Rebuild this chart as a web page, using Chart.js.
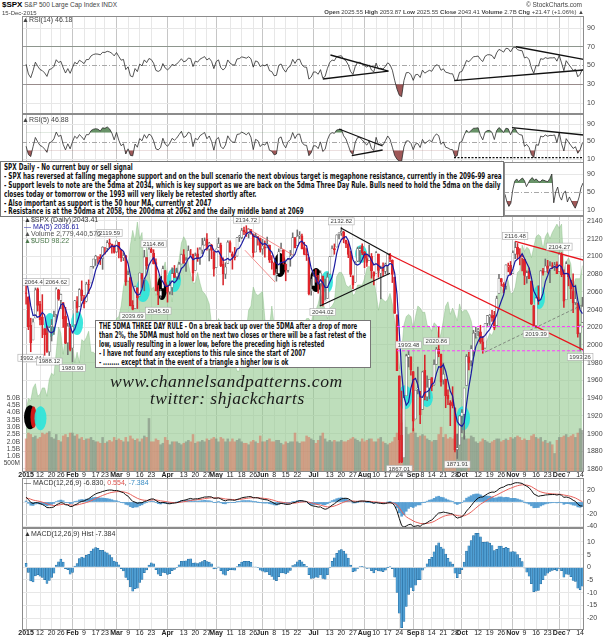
<!DOCTYPE html>
<html>
<head>
<meta charset="utf-8">
<script src="https://cdn.jsdelivr.net/npm/chart.js@4.4.1/dist/chart.umd.min.js"></script>
<style>
  html, body { margin: 0; padding: 0; background: #fff; }
  #page { position: relative; width: 606px; height: 640px; overflow: hidden; font-family: "Liberation Sans", Arial, sans-serif; }
  #page canvas { position: absolute; }
  .t { position: absolute; white-space: nowrap; font-size: 7px; line-height: 8px; color: #444; }
  .box { position: absolute; background: #fff; border: 1px solid #777; box-sizing: border-box; }
  .bl { position: absolute; left: 3px; white-space: nowrap; font: bold 8px/9px "Liberation Sans Narrow", "DejaVu Sans Condensed", "Liberation Sans", sans-serif; color: #111; transform-origin: 0 0; }
  .wm { position: absolute; white-space: nowrap; font: italic 17px/18px "Liberation Serif", "DejaVu Serif", serif; color: #1a1a1a; transform-origin: 0 0; letter-spacing: 0.5px; }
</style>
</head>
<body>
<div id="page">
  <canvas id="cRsi14" width="606" height="98" style="left:0;top:16px"></canvas>
  <canvas id="cRsi5" width="606" height="49" style="left:0;top:114px"></canvas>
  <canvas id="cMini" width="102" height="54" style="left:504px;top:162px"></canvas>
  <canvas id="cMain" width="606" height="266" style="left:0;top:216px"></canvas>
  <canvas id="cMacd" width="606" height="50" style="left:0;top:478px"></canvas>
  <canvas id="cHist" width="606" height="112" style="left:0;top:528px"></canvas>

  <div class="t" style="left:2px;top:1px;font-size:6.5px"><b style="font-size:8px;color:#000">$SPX</b> S&amp;P 500 Large Cap Index INDX</div>
  <div class="t" style="left:2px;top:9px;font-size:6px">15-Dec-2015</div>
  <div class="t" style="right:24px;top:1px;font-size:6.5px">&copy; StockCharts.com</div>
  <div class="t" style="right:22px;top:8px;font-size:6px"><b>Open</b> 2025.55 <b>High</b> 2053.87 <b>Low</b> 2025.55 <b>Close</b> 2043.41 <b>Volume</b> 2.7B <b>Chg</b> +21.47 (+1.06%) &#9650;</div>
  <div class="t" style="left:22px;top:16px">&#9650;RSI(14) 46.18</div>
  <div class="t" style="left:22px;top:116px">&#9650;RSI(5) 46.88</div>

  <div class="t" style="left:24px;top:216px;color:#333">&#9650;$SPX (Daily) 2043.41</div>
  <div class="t" style="left:24px;top:223px;color:#1a1aa0">&mdash; MA(5) 2036.61</div>
  <div class="t" style="left:24px;top:230px;color:#555">&#9650;Volume 2,779,440,576</div>
  <div class="t" style="left:24px;top:237px;color:#4d7a4d">&#9650;$USD 98.22</div>

  <div class="t" style="left:24px;top:479px;color:#333">&mdash; MACD(12,26,9) -6.830, <span style="color:#e0504a">0.554</span>, <span style="color:#3a8cc4">-7.384</span></div>
  <div class="t" style="left:24px;top:530px;color:#333">&#9650;MACD(12,26,9) Hist -7.384</div>

  <div class="box" id="box1" style="left:0;top:161px;width:504px;height:56px">
    <div class="bl b1" style="top:1px">SPX Daily - No current buy or sell signal</div>
    <div class="bl b1" style="top:10px">- SPX has reversed at falling megaphone support and on the bull scenario the next obvious target is megaphone resistance, currently in the 2096-99 area</div>
    <div class="bl b1" style="top:19px">- Support levels to note are the 5dma at 2034, which is key support as we are back on the 5dma Three Day Rule. Bulls need to hold the 5dma on the daily</div>
    <div class="bl b1" style="top:28px">closes today or tomorrow or the 1993 will very likely be retested shortly after.</div>
    <div class="bl b1" style="top:37px">- Also important as support is the 50 hour MA, currently at 2047</div>
    <div class="bl b1" style="top:45px">- Resistance is at the 50dma at 2058, the 200dma at 2062 and the daily middle band at 2069</div>
  </div>

  <div class="box" id="box2" style="left:95px;top:320px;width:276px;height:48px">
    <div class="bl b2" style="top:1px">THE 5DMA THREE DAY RULE - On a break back up over the 5DMA after a drop of more</div>
    <div class="bl b2" style="top:10px">than 2%, the 5DMA must hold on the next two closes or there will be a fast retest of the</div>
    <div class="bl b2" style="top:19px">low, usually resulting in a lower low, before the preceding high is retested</div>
    <div class="bl b2" style="top:28px"> - I have not found any exceptions to this rule since the start of 2007</div>
    <div class="bl b2" style="top:37px"> - ........ except that in the event of a triangle a higher low is ok</div>
  </div>

  <div class="wm" id="wm1" style="left:110px;top:373px">www.channelsandpatterns.com</div>
  <div class="wm" id="wm2" style="left:150px;top:390px">twitter: shjackcharts</div>
  <div class="t" id="err" style="left:200px;top:300px;color:red;font-size:12px"></div>
</div>

<script>
// ---------- data (SPX daily, 2 Jan - 15 Dec 2015) ----------
// closes of Nov/Dec 2014, only used to warm up the indicators
const warmCloses = [2017.8,2012.1,2023.6,2031.2,2031.9,2038.3,2039.7,2038.3,2039.8,2039.8,2041.3,2051.8,2048.7,2052.8,2063.5,2069.4,2067.0,2072.8,2067.6,
  2053.4,2066.6,2074.3,2071.9,2075.4,2060.3,2059.8,2026.1,2035.3,2002.3,1989.6,1972.7,2012.9,2061.2,2070.7,2078.5,2082.2,2081.9,2088.8,2090.6,2080.4,2058.9];

const opens = [
  2058.9,2054.4,2022.2,2005.6,2030.6,2063.5,2046.1,2031.6,2018.4,2013.8,1992.3,2020.8,2020.2,2034.3,2062.0,2050.4,2047.9,2032.3,2002.5,2019.4,
  1996.7,2022.7,2048.9,2043.5,2062.3,2053.5,2049.4,2068.6,2070.0,2088.8,2096.5,2099.2,2099.3,2097.7,2109.8,2109.1,2115.3,2113.9,2110.9,
  2105.2,2115.8,2107.7,2098.5,2100.9,2072.3,2076.1,2044.7,2041.1,2064.6,2055.4,2080.6,2072.8,2098.7,2090.3,2108.0,2103.9,2093.1,2059.9,2055.8,2064.1,2084.1,
  2067.6,2060.0,2064.9,2080.8,2076.9,2081.3,2091.5,2102.0,2092.3,2097.8,2105.0,2102.6,2084.1,2102.8,2098.3,2107.2,2112.8,2119.3,2108.4,2112.5,2105.5,
  2087.4,2110.2,2112.6,2091.3,2080.0,2092.1,2115.6,2102.9,2099.6,2100.4,2122.1,2121.3,2129.5,2127.8,2125.6,2130.4,2125.3,2105.1,2122.3,2120.7,
  2108.6,2110.4,2110.6,2112.4,2095.1,2092.3,2079.1,2081.0,2106.2,2107.4,2091.3,2084.3,2097.4,2101.6,2121.1,2112.5,2123.2,2123.2,2110.0,2102.6,2098.6,2061.2,
  2067.0,2078.0,2073.0,2069.5,2077.7,2049.7,2052.7,2080.0,2099.7,2109.0,2110.6,2124.8,2126.8,2127.6,2118.2,2114.2,2102.2,2078.2,2070.8,2094.7,2106.8,2111.6,
  2104.5,2097.7,2095.3,2100.1,2082.6,2081.0,2102.7,2081.1,2086.2,2083.2,2089.7,2102.0,2095.7,2076.6,2034.1,1965.2,1898.1,1872.8,1942.8,1986.1,1986.7,
  1970.1,1916.5,1950.8,1947.8,1927.3,1971.5,1941.6,1951.5,1963.1,1955.1,1978.0,1995.3,1989.7,1960.8,1961.4,1943.2,1934.8,1935.9,1929.2,1881.9,1887.1,
  1919.7,1921.8,1954.3,1986.6,1982.3,1994.0,2013.7,2015.7,2015.0,2003.7,1996.5,2024.4,2031.7,2033.1,2033.5,2021.9,2058.2,2075.1,2068.8,2066.5,2088.4,2090.0,
  2080.8,2102.6,2110.6,2101.7,2098.6,2096.6,2077.2,2083.4,2072.3,2044.6,2022.1,2053.7,2052.0,2083.7,2082.8,2089.4,2084.4,2089.3,2088.8,2091.0,
  2082.9,2101.7,2080.7,2051.2,2090.4,2073.4,2061.2,2047.9,2047.3,2013.4,2025.55
];
const highs = [
  2072.4,2054.4,2030.3,2029.6,2064.4,2064.4,2049.3,2056.9,2018.4,2021.4,2020.5,2028.9,2038.3,2064.6,2062.9,2057.6,2047.9,2042.5,2024.6,2023.3,
  2021.7,2050.3,2054.7,2063.6,2072.4,2056.2,2070.9,2073.5,2088.5,2097.0,2101.3,2100.2,2102.1,2111.0,2110.1,2117.9,2119.6,2113.9,2112.7,
  2117.5,2115.8,2107.7,2104.3,2100.9,2083.5,2076.1,2050.1,2066.4,2064.6,2081.4,2080.6,2106.9,2098.7,2113.9,2114.9,2107.6,2097.4,2067.1,2062.8,2089.0,2084.1,
  2067.6,2072.2,2087.0,2089.8,2086.7,2093.3,2102.6,2107.7,2098.6,2111.9,2107.9,2102.6,2103.9,2109.6,2110.0,2120.5,2120.9,2125.9,2116.0,2113.7,2105.5,
  2108.4,2120.9,2115.2,2098.4,2092.9,2117.7,2117.7,2105.1,2110.2,2121.5,2123.9,2131.8,2133.0,2134.7,2131.4,2130.4,2125.3,2126.2,2122.3,2120.7,
  2119.2,2117.6,2121.9,2112.9,2101.0,2093.0,2085.6,2108.5,2115.0,2107.4,2091.3,2097.4,2106.8,2126.6,2121.6,2129.9,2128.0,2125.1,2116.0,2108.9,2098.6,2074.3,
  2082.8,2085.1,2078.6,2083.7,2077.7,2074.3,2081.3,2099.9,2112.0,2114.1,2124.4,2126.6,2132.8,2128.5,2118.5,2116.9,2106.0,2078.2,2094.1,2110.6,2110.5,2114.2,
  2105.7,2102.5,2112.7,2103.3,2082.6,2105.4,2102.7,2089.1,2092.9,2092.5,2102.9,2103.5,2096.2,2076.6,2034.1,1965.2,1948.0,1943.1,1989.6,1993.5,1986.7,
  1970.1,1948.9,1975.0,1947.8,1970.4,1988.6,1965.3,1961.1,1963.1,1983.2,1997.3,2020.9,1989.7,1979.6,1961.4,1949.5,1937.2,1952.9,1929.2,1899.5,1920.5,
  1927.2,1951.4,1989.2,1991.6,1999.3,2016.5,2020.1,2018.7,2022.3,2009.6,2024.2,2033.5,2034.5,2039.1,2038.0,2055.2,2079.7,2075.1,2070.4,2090.4,2092.5,2094.3,
  2106.2,2116.5,2114.6,2108.8,2101.9,2096.6,2083.7,2086.9,2072.3,2044.6,2053.2,2066.7,2084.0,2086.7,2097.1,2095.6,2094.1,2093.0,2093.3,2093.8,
  2104.3,2104.3,2085.0,2093.8,2090.4,2073.4,2080.3,2067.7,2047.3,2022.9,2053.87
];
const lows = [
  2046.0,2017.3,1992.4,2005.6,2030.6,2038.3,2022.6,2008.3,1988.4,1991.5,1988.1,2004.5,2012.0,2026.4,2050.5,2041.0,2019.9,2001.5,1989.2,1993.4,
  1980.9,2022.7,2036.7,2043.5,2050.0,2041.9,2048.6,2058.0,2070.0,2086.7,2089.8,2092.2,2090.8,2085.4,2102.5,2105.9,2109.9,2103.8,2103.8,
  2104.5,2098.3,2094.5,2095.2,2067.3,2072.2,2044.2,2039.7,2041.1,2041.2,2055.4,2065.1,2061.2,2085.6,2090.3,2104.4,2091.5,2061.1,2045.5,2053.0,2064.1,2067.0,
  2048.4,2057.3,2056.5,2076.1,2074.1,2074.3,2091.5,2092.3,2083.2,2097.8,2101.4,2072.4,2084.1,2094.4,2091.1,2103.2,2112.8,2107.0,2094.9,2097.4,2077.6,
  2087.4,2110.2,2088.5,2067.9,2075.0,2092.1,2104.6,2085.6,2096.0,2100.4,2116.8,2120.0,2124.5,2122.6,2120.9,2125.1,2099.2,2105.1,2112.8,2104.9,
  2102.5,2099.1,2109.6,2093.2,2085.7,2079.1,2072.1,2081.0,2106.2,2091.3,2072.5,2082.1,2088.9,2101.6,2109.5,2112.5,2119.9,2108.6,2101.8,2095.4,2056.6,2056.3,
  2067.0,2071.0,2058.4,2044.7,2044.0,2049.7,2052.7,2080.0,2099.7,2102.5,2110.6,2119.9,2123.7,2115.4,2110.0,2098.6,2077.1,2063.5,2070.8,2094.1,2094.1,2102.1,
  2087.3,2088.6,2095.3,2075.5,2067.9,2081.0,2076.5,2052.1,2078.3,2080.6,2079.3,2094.1,2070.5,2035.7,1970.9,1867.0,1867.1,1872.8,1942.8,1975.2,1966.0,
  1903.1,1916.5,1944.7,1911.2,1927.3,1937.9,1937.2,1939.2,1948.3,1954.3,1977.9,1986.7,1953.5,1955.8,1929.2,1932.6,1908.9,1929.0,1879.2,1871.9,1887.1,
  1900.7,1893.7,1954.3,1972.0,1976.4,1987.5,2007.6,2010.3,2001.8,1990.7,1996.5,2020.5,2022.3,2026.6,2017.2,2021.9,2058.2,2066.5,2058.8,2063.1,2082.6,2079.3,
  2080.8,2097.5,2097.0,2090.4,2083.7,2068.2,2069.9,2074.9,2045.7,2022.0,2019.4,2045.9,2052.0,2078.8,2082.8,2081.4,2070.3,2086.3,2084.1,2080.4,
  2082.9,2077.1,2042.4,2051.2,2066.8,2052.3,2036.5,2045.7,2008.8,1993.3,2025.55
];
const closes = [
  2058.2,2020.6,2002.6,2025.9,2062.1,2044.8,2028.3,2023.0,2011.3,1992.7,2019.4,2022.6,2032.1,2063.2,2051.8,2057.1,2029.6,2002.2,2021.3,1995.0,
  2020.9,2050.0,2041.5,2062.5,2055.5,2046.7,2068.6,2068.5,2088.5,2097.0,2100.3,2099.7,2097.5,2110.3,2109.7,2115.5,2113.9,2110.7,2104.5,
  2117.4,2107.8,2098.5,2101.0,2071.3,2079.4,2044.2,2040.2,2066.0,2053.4,2081.2,2074.3,2099.5,2089.3,2108.1,2104.4,2091.5,2061.1,2056.2,2061.0,2086.2,2067.9,
  2059.7,2067.0,2080.6,2076.3,2081.9,2091.2,2102.1,2092.4,2095.8,2106.6,2105.0,2081.2,2100.4,2097.3,2108.0,2112.9,2117.7,2108.9,2114.8,2106.9,2085.5,
  2108.3,2114.5,2089.5,2080.2,2088.0,2116.1,2105.3,2099.9,2098.5,2121.1,2122.7,2129.2,2127.8,2125.9,2130.8,2126.1,2104.2,2123.5,2120.8,2107.4,
  2111.7,2109.6,2114.1,2095.8,2092.8,2079.3,2080.2,2105.2,2108.9,2094.1,2084.4,2096.3,2100.4,2121.2,2110.0,2122.9,2124.2,2108.6,2102.3,2101.5,2057.6,2063.1,
  2077.4,2076.8,2068.8,2081.3,2046.7,2051.3,2076.6,2099.6,2109.0,2107.4,2124.3,2126.6,2128.3,2119.2,2114.2,2102.2,2079.7,2067.6,2093.3,2108.6,2108.6,2104.0,
  2098.0,2093.3,2099.8,2083.6,2077.6,2104.2,2084.1,2086.1,2083.4,2091.5,2102.4,2096.9,2079.6,2035.7,1970.9,1893.2,1867.6,1940.5,1987.7,1988.9,1972.2,
  1913.9,1948.9,1951.1,1921.2,1969.4,1942.0,1952.3,1961.1,1953.0,1978.1,1995.3,1990.2,1958.0,1967.0,1942.7,1938.8,1932.2,1931.3,1881.8,1884.1,1920.0,
  1923.8,1951.4,1987.1,1979.9,1995.8,2013.4,2014.9,2017.5,2003.7,1994.2,2023.9,2033.1,2033.7,2030.8,2018.9,2052.5,2075.2,2071.2,2065.9,2090.4,2089.4,2079.4,
  2104.1,2109.8,2102.3,2099.9,2099.2,2078.6,2081.7,2075.0,2046.0,2023.0,2053.2,2050.4,2083.6,2081.2,2089.2,2086.6,2089.1,2088.9,2090.1,2080.4,
  2102.6,2079.5,2049.6,2091.7,2077.1,2063.6,2047.6,2052.2,2012.4,2021.9,2043.41
];
// volume, billions of shares
const volumes = [
  2.2,2.6,2.5,2.3,2.4,2.2,2.3,2.6,2.5,2.6,2.7,2.3,2.2,2.5,2.1,2.0,2.4,2.5,2.3,2.6,
  2.6,2.4,2.5,2.2,2.3,2.1,2.2,2.2,2.3,2.1,2.0,2.0,1.9,2.3,1.9,2.0,2.1,2.0,2.3,
  2.1,2.2,2.1,2.0,2.3,2.0,2.4,2.2,2.1,2.2,2.0,2.2,2.4,2.3,3.6,2.0,2.0,2.2,2.1,1.8,1.9,2.3,
  2.1,1.8,2.0,2.0,2.0,1.9,1.8,1.9,2.0,2.1,2.0,2.5,1.9,2.0,2.0,2.1,2.0,2.2,2.1,2.2,2.3,
  2.2,2.0,2.3,2.2,2.0,2.2,2.0,2.2,2.0,2.1,2.2,2.0,1.9,1.9,1.8,2.0,2.1,2.0,1.9,2.4,
  2.0,2.0,2.1,2.2,2.0,2.0,2.1,2.1,1.9,1.8,2.0,1.9,2.0,2.0,2.6,2.0,1.9,2.0,2.0,2.4,2.3,2.2,
  2.1,1.9,2.1,2.4,2.6,2.2,2.0,2.1,2.0,2.1,2.0,2.0,2.1,2.0,2.0,2.1,2.2,2.3,2.2,2.1,2.0,2.2,
  2.0,2.1,2.2,2.2,2.0,2.0,2.2,2.3,2.0,1.9,1.8,1.9,2.0,2.3,2.6,3.9,3.3,3.5,3.0,2.5,2.6,
  2.9,2.6,2.3,2.4,2.5,2.4,2.2,2.1,2.0,2.1,2.1,2.5,3.0,2.3,2.5,2.2,2.3,2.2,2.4,2.5,2.6,
  2.3,2.4,2.2,2.2,2.4,2.3,2.0,1.9,2.0,2.2,2.1,2.0,1.9,2.0,2.1,2.2,2.2,2.0,2.1,2.2,2.1,2.3,
  2.2,2.3,2.4,2.3,2.1,2.2,2.1,2.1,2.4,2.5,2.3,2.2,2.3,2.0,2.1,1.9,2.0,1.8,1.2,2.1,
  2.3,2.3,2.4,2.5,2.3,2.4,2.5,2.3,2.6,2.9,2.78
];
// $USD overlay (green area)
const usd = [
  91.3,91.9,91.8,92.4,92.6,92.0,92.1,92.4,92.4,92.0,92.8,93.1,93.0,94.1,95.3,95.0,94.0,94.9,95.1,94.8,
  94.5,93.6,94.1,93.6,94.7,94.6,94.8,95.1,94.1,94.1,94.0,94.2,94.6,94.8,94.6,94.3,94.4,95.1,95.3,
  95.7,95.8,96.3,97.2,97.7,98.1,99.2,99.9,99.4,100.3,99.5,99.8,97.5,99.1,98.1,97.1,97.2,96.8,97.8,97.2,98.0,98.4,
  97.5,97.3,96.5,97.6,98.1,98.5,99.3,99.6,99.4,98.3,97.8,97.4,97.4,97.9,97.4,97.0,96.9,96.7,96.4,95.4,94.6,
  95.2,95.7,95.5,94.3,94.8,94.8,95.1,95.0,93.6,93.2,93.2,94.9,95.6,95.1,96.1,96.3,97.2,96.9,96.8,96.9,
  97.0,95.7,95.0,95.3,96.3,95.4,94.9,94.7,95.5,95.2,94.8,95.2,95.0,93.8,94.3,94.9,95.5,95.2,95.5,95.7,95.7,95.5,
  96.0,96.1,96.4,96.9,96.5,96.1,95.7,96.2,96.3,96.5,97.7,97.9,97.9,97.7,97.3,97.2,97.3,96.8,96.9,97.3,97.3,97.3,
  97.6,98.1,98.2,97.9,97.6,96.9,96.1,96.7,96.6,96.5,96.6,96.9,96.4,95.6,94.9,93.3,94.1,95.4,95.8,95.9,95.8,
  95.2,95.8,96.3,96.2,96.0,96.0,95.4,95.3,95.1,95.5,95.4,94.6,95.0,95.6,96.3,96.5,95.9,96.2,95.9,95.6,96.4,
  96.0,96.1,96.1,95.9,95.6,95.0,94.8,94.8,95.2,94.4,94.5,94.7,95.0,94.9,95.2,96.5,97.2,97.2,96.9,97.8,97.5,96.9,
  96.9,97.2,97.9,98.0,99.2,98.9,99.1,99.0,98.6,99.1,99.6,99.7,99.6,99.0,99.6,99.8,99.5,99.8,100.0,100.2,
  100.0,100.2,98.0,98.4,98.6,98.3,97.2,97.6,97.6,97.6,98.22
];
// small hourly RSI(5) pasted to the right of the note box
const miniRsi = [45,28,18,25,55,74,79,73,78,81,75,62,70,78,82,76,79,74,72,77,76,74,73,80,90,26,50,61,40,32,48,52,28,39,30,21,14,25,39,60,70];

// x axis: trading-day index of each date label
const tickIdx = [0,6,11,15, 20,25,30,34, 39,44,49,54, 61,68,73,78, 82,88,93,98, 102,107,112,117, 124,131,136,141,
  146,151,156,161, 167,171,175,180,185, 188,195,200,205, 210,215,220,225, 230,234,239];
const tickText = ['2015','12','20','26','Feb','9','17','23','Mar','9','16','23','Apr','13','20','27','May','11','18','26',
  'Jun','8','15','22','Jul','13','20','27','Aug','10','17','24','Sep','8','14','21','28','Oct','12','19','26',
  'Nov','9','16','23','Dec','7','14'];
const priceTicks = [1860,1870,1880,1890,1900,1910,1920,1930,1940,1950,1960,1970,1980,1990,2000,2010,2020,2030,2040,
  2050,2060,2070,2080,2090,2100,2110,2120,2130,2140];
const rsiTicks = [10,30,50,70,90];
const macdTicks = [-40,-20,0,20];
const histTicks = [-20,-15,-10,-5,0,5,10];
const volTicks = [0.5,1,1.5,2,2.5,3,3.5,4,4.5,5];
const volText = ['500M','1.0B','1.5B','2.0B','2.5B','3.0B','3.5B','4.0B','4.5B','5.0B'];

// hand-drawn notes on the chart (trading-day index, value)
const priceTags = [[4,'2064.43','h'],[13,'2064.62','h'],[2,'1992.44','l'],[10,'1988.12','l'],[20,'1980.90','l'],
  [36,'2119.59','h'],[55,'2114.86','h'],[46,'2039.69','l'],[57,'2045.50','l'],[95,'2134.72','h'],[136,'2132.82','h'],
  [128,'2044.02','l'],[161,'1867.01','l'],[186,'1871.91','l'],[165,'1993.48','h'],[177,'2020.86','h'],
  [211,'2116.48','h'],[230,'2104.27','h'],[220,'2019.39','l'],[239,'1993.26','l']];
const trendLines = [
  [135.8,2132,157,2101.6,'#111',1.2],[126.7,2044,157,2081,'#111',1.2],
  [157,2101.6,250,1982,'#e8141c',1.3],[211,2117,250,2089,'#e8141c',1.3],
  [95.3,2132,115.1,2101.6,'#f06060',0.7],[94.4,2107,107.4,2071,'#f06060',0.7]];
const dashLines = [[198,1992,250,2058,'#666',0.7],[160,2020.86,250,2020.86,'#ff3cff',1],[160,1993.48,250,1993.48,'#ff3cff',1]];
const CY = 'rgba(45,228,218,0.92)';
const rings = [[10.3,2022.5,6,12,CY],[22,2024.7,6,12,CY],[1.7,1918.5,6,12,'#000'],[3.2,1918.5,3,11,'#d01818'],[6.2,1917.4,6,12,CY],
  [50.4,2062,7,12,CY],[58.6,2064.3,5,12,'#000'],[63.8,2073.3,7,12,CY],[109.5,2090.3,6,12,'#000'],[125.1,2073.3,6,12,'#000'],
  [129.8,2071.1,6,11,CY],[144.5,2102.7,6,9,CY],[163.5,1941.1,7,12,CY],[172.9,1941.1,6,10,CY],[188.5,1917.4,7,12,CY],[221.3,2054.1,6,12,CY]];
const rsi14Lines = [[131.3,61.2,156.3,44.1],[128,35.6,156.3,44.1],[211.3,70,240.5,56.6],[184.7,33.8,240.5,45.2]];
const rsi5Lines = [[135,78.6,153.8,39.7],[140.5,17.5,153.8,30.6],[209.6,81.5,240.5,64.9]];
const rsi5Dots = [[184.6,13,240.5,13]];

// ---------- indicators (standard definitions applied to the closes) ----------
const N = closes.length;
const lens = [opens, highs, lows, closes, volumes, usd].map(a => a.length);
if (lens.some(l => l !== N)) document.getElementById('err').textContent = 'len ' + lens.join(',');
const all = warmCloses.concat(closes), W = warmCloses.length;
function sma(a, n) { return a.map((_, i) => i < n - 1 ? null : a.slice(i - n + 1, i + 1).reduce((s, v) => s + v, 0) / n); }
function ema(a, n) { const k = 2 / (n + 1); let p = null; return a.map(v => (p = p === null ? v : v * k + p * (1 - k))); }
function rsi(a, n) {
  const out = [null]; let ag = 0, al = 0;
  for (let i = 1; i < a.length; i++) {
    const d = a[i] - a[i - 1], g = Math.max(d, 0), l = Math.max(-d, 0);
    if (i <= n) { ag += g / n; al += l / n; out.push(i === n ? 100 - 100 / (1 + ag / al) : null); }
    else { ag = (ag * (n - 1) + g) / n; al = (al * (n - 1) + l) / n; out.push(al === 0 ? 100 : 100 - 100 / (1 + ag / al)); }
  }
  return out;
}
const ma5 = sma(all, 5).slice(W);
const rsi14 = rsi(all, 14).slice(W);
const rsi5 = rsi(all, 5).slice(W);
const e12 = ema(all, 12), e26 = ema(all, 26);
const macdAll = e12.map((v, i) => v - e26[i]);
const sigAll = ema(macdAll, 9);
const macd = macdAll.slice(W), signal = sigAll.slice(W);
const hist = macd.map((v, i) => v - signal[i]);

// ---------- layout helpers ----------
const X_MIN = -1.77, X_MAX = 240.68;
function calib(top, h, v1, p1, v2, p2) { const k = (p2 - p1) / (v1 - v2); return { min: v2 - (top + h - p2) / k, max: v1 + (p1 - top) / k }; }
const isMonth = i => !/^\d{1,2}$/.test(tickText[i] || '');

Chart.defaults.font.family = '"Liberation Sans", Arial, sans-serif';
Chart.defaults.font.size = 7;
Chart.defaults.color = '#333';
Chart.defaults.animation = false;
Chart.defaults.plugins.legend.display = false;
Chart.defaults.plugins.tooltip.enabled = false;
Chart.defaults.elements.point.radius = 0;

function xAxis(labels) {
  return {
    type: 'linear', min: X_MIN, max: X_MAX, offset: false,
    afterBuildTicks: s => { s.ticks = tickIdx.map(v => ({ value: v })); },
    afterFit: s => { s.height = labels ? 10 : 0; s.paddingLeft = s.paddingRight = 0; },
    grid: { offset: false, drawTicks: false, color: c => isMonth(c.index) ? '#c6c6c6' : '#e7e7e7' },
    border: { display: false },
    ticks: { display: labels, autoSkip: false, maxRotation: 0, minRotation: 0, padding: -1, color: '#222',
      font: c => ({ size: 7, weight: isMonth(c.index) ? 'bold' : 'normal' }),
      callback: (v, i) => tickText[i] }
  };
}
function yAxis(r, vals, gridColor) {
  return {
    position: 'right', min: r.min, max: r.max,
    afterBuildTicks: s => { s.ticks = vals.map(v => ({ value: v })); },
    afterFit: s => { s.width = 22; s.paddingTop = s.paddingBottom = 0; },
    grid: { drawTicks: false, color: gridColor || '#e7e7e7' },
    border: { display: false },
    ticks: { padding: 3, color: '#444', font: { size: 7 }, callback: v => String(v) }
  };
}
const rsiGrid = c => { const v = c.tick && c.tick.value; return v === 70 || v === 30 ? '#9a9a9a' : v === 50 ? 'rgba(0,0,0,0)' : '#e7e7e7'; };

const frame = { id: 'frame', afterDraw(c) {
  const a = c.chartArea, g = c.ctx; g.save(); g.strokeStyle = '#8c8c8c'; g.lineWidth = 1;
  g.strokeRect(a.left + 0.5, a.top + 0.5, a.right - a.left - 1, a.bottom - a.top - 1); g.restore(); } };

function drawSegs(c, yId, segs, color, width, dash) {
  const X = c.scales.x, Y = c.scales[yId], g = c.ctx, a = c.chartArea;
  g.save(); g.beginPath(); g.rect(a.left, a.top, a.right - a.left, a.bottom - a.top); g.clip();
  segs.forEach(s => {
    g.beginPath(); g.strokeStyle = s[4] || color; g.lineWidth = s[5] || width; g.setLineDash(dash || []);
    g.moveTo(X.getPixelForValue(s[0]), Y.getPixelForValue(s[1]));
    g.lineTo(X.getPixelForValue(s[2]), Y.getPixelForValue(s[3])); g.stroke();
  });
  g.restore();
}
function midDash(c) {
  const Y = c.scales.y, a = c.chartArea, g = c.ctx, y = Math.round(Y.getPixelForValue(50)) + 0.5;
  g.save(); g.strokeStyle = '#a8a8a8'; g.lineWidth = 1; g.setLineDash([5, 2, 1, 2]);
  g.beginPath(); g.moveTo(a.left, y); g.lineTo(a.right, y); g.stroke(); g.restore();
}

function rsiConfig(vals, r, xs, xScale, pad, notes) {
  const pts = vals.map((v, i) => ({ x: xs[i], y: v }));
  return {
    type: 'line',
    data: { datasets: [
      { data: pts, borderColor: '#2a2a2a', borderWidth: 0.8, fill: false, order: 1 },
      { data: pts, borderWidth: 0, fill: { target: { value: 70 }, above: 'rgba(88,135,88,0.9)', below: 'rgba(0,0,0,0)' }, order: 2 },
      { data: pts, borderWidth: 0, fill: { target: { value: 30 }, above: 'rgba(0,0,0,0)', below: 'rgba(150,70,70,0.9)' }, order: 3 }
    ] },
    options: {
      responsive: false, layout: { padding: { left: pad, right: 0, top: 0, bottom: 0 } },
      scales: { x: xScale, y: yAxis(r, rsiTicks, rsiGrid) }
    },
    plugins: [frame, { id: 'rsiNotes', beforeDatasetsDraw: midDash, afterDatasetsDraw: notes || (() => {}) }]
  };
}

const idx = closes.map((_, i) => i);

// RSI(14)
new Chart(document.getElementById('cRsi14'), rsiConfig(rsi14, calib(16, 98, 90, 28, 10, 103), idx, xAxis(false), 22,
  c => drawSegs(c, 'y', rsi14Lines, '#111', 1.3)));
// RSI(5)
new Chart(document.getElementById('cRsi5'), rsiConfig(rsi5, calib(114, 49, 90, 124, 10, 159), idx, xAxis(false), 22,
  c => { drawSegs(c, 'y', rsi5Lines, '#111', 1.3); drawSegs(c, 'y', rsi5Dots, '#111', 1.2, [2, 1.5]); }));
// small pasted RSI panel
const miniX = { type: 'linear', min: -0.5, max: miniRsi.length - 0.5, offset: false,
  afterFit: s => { s.height = 0; s.paddingLeft = s.paddingRight = 0; },
  grid: { display: false }, ticks: { display: false }, border: { display: false } };
new Chart(document.getElementById('cMini'), rsiConfig(miniRsi, calib(162, 54, 90, 174, 10, 210), miniRsi.map((_, i) => i), miniX, 0));

// main price panel
const prevC = closes.map((c, i) => i ? closes[i - 1] : warmCloses[W - 1]);
const down = closes.map((c, i) => c < prevC[i]);
const bodyFill = closes.map((c, i) => c >= opens[i] ? '#ffffff' : (down[i] ? '#e3242b' : '#222222'));
const edge = closes.map((c, i) => down[i] ? '#d8262c' : '#707070');
const rMain = calib(216, 256, 2140, 221, 1860, 469);
const rVol = calib(216, 256, 5, 398, 0, 471);
const rUsd = calib(216, 256, 100.3, 222, 91.3, 411);

const mainNotes = {
  id: 'mainNotes',
  afterDatasetDraw(c, args) {
    if (args.index !== 1) return;
    const X = c.scales.x, Y = c.scales.y, g = c.ctx, a = c.chartArea;
    g.save(); g.beginPath(); g.rect(a.left, a.top, a.right - a.left, a.bottom - a.top); g.clip();
    rings.forEach(([i, p, rx, ry, col]) => {
      g.beginPath(); g.ellipse(X.getPixelForValue(i), Y.getPixelForValue(p), rx, ry, 0, 0, Math.PI * 2);
      g.fillStyle = col; g.fill();
    });
    g.restore();
  },
  afterDatasetsDraw(c) {
    drawSegs(c, 'y', trendLines, '#111', 1.2);
    drawSegs(c, 'y', dashLines, '#f0f', 1, [3, 2]);
    const X = c.scales.x, Y = c.scales.y, g = c.ctx;
    g.save(); g.font = '6px "Liberation Sans", Arial, sans-serif'; g.textAlign = 'center'; g.textBaseline = 'middle';
    priceTags.forEach(([i, txt, side]) => {
      const x = X.getPixelForValue(i);
      const y = side === 'h' ? Y.getPixelForValue(highs[i]) - 6 : Y.getPixelForValue(lows[i]) + 6;
      const w = g.measureText(txt).width + 4;
      g.fillStyle = 'rgba(255,255,255,0.92)'; g.fillRect(x - w / 2, y - 3.5, w, 7);
      g.strokeStyle = '#aaa'; g.lineWidth = 0.6; g.strokeRect(x - w / 2, y - 3.5, w, 7);
      g.fillStyle = '#444'; g.fillText(txt, x, y + 0.3);
    });
    g.restore();
  }
};

new Chart(document.getElementById('cMain'), {
  type: 'bar',
  data: { datasets: [
    { type: 'line', data: idx.map(i => ({ x: i, y: usd[i] })), yAxisID: 'yUsd', fill: 'start',
      backgroundColor: 'rgba(150,201,146,0.62)', borderColor: 'rgba(130,185,128,0.8)', borderWidth: 0.5, order: 9 },
    { type: 'bar', data: idx.map(i => ({ x: i, y: volumes[i] })), yAxisID: 'yVol', grouped: false, barThickness: 1.9,
      backgroundColor: down.map(d => d ? 'rgba(216,118,98,0.6)' : 'rgba(118,128,118,0.55)'), order: 8 },
    { type: 'bar', data: idx.map(i => ({ x: i, y: [lows[i], highs[i]] })), yAxisID: 'y', grouped: false, barThickness: 0.9,
      backgroundColor: edge, order: 3 },
    { type: 'bar', data: idx.map(i => ({ x: i, y: [opens[i], closes[i]] })), yAxisID: 'y', grouped: false, barThickness: 2.2,
      backgroundColor: bodyFill, borderColor: edge, borderWidth: 0.6, borderSkipped: false, order: 2 },
    { type: 'line', data: idx.map(i => ({ x: i, y: ma5[i] })), yAxisID: 'y', borderColor: '#1a1aa0', borderWidth: 1.2, fill: false, order: 1 }
  ] },
  options: {
    responsive: false, layout: { padding: 0 },
    scales: {
      x: xAxis(true),
      y: yAxis(rMain, priceTicks),
      yVol: { position: 'left', min: rVol.min, max: rVol.max,
        afterBuildTicks: s => { s.ticks = volTicks.map(v => ({ value: v })); },
        afterFit: s => { s.width = 22; s.paddingTop = s.paddingBottom = 0; },
        grid: { display: false, drawTicks: false }, border: { display: false },
        ticks: { padding: 2, color: '#444', font: { size: 6.5 }, callback: (v, i) => volText[i] } },
      yUsd: { display: false, min: rUsd.min, max: rUsd.max }
    }
  },
  plugins: [frame, mainNotes]
});

// MACD lines panel
new Chart(document.getElementById('cMacd'), {
  type: 'bar',
  data: { datasets: [
    { type: 'bar', data: idx.map(i => ({ x: i, y: hist[i] })), grouped: false, barThickness: 2,
      backgroundColor: 'rgba(62,145,205,0.85)', order: 3 },
    { type: 'line', data: idx.map(i => ({ x: i, y: signal[i] })), borderColor: '#e8605a', borderWidth: 1, fill: false, order: 2 },
    { type: 'line', data: idx.map(i => ({ x: i, y: macd[i] })), borderColor: '#111', borderWidth: 1, fill: false, order: 1 }
  ] },
  options: { responsive: false, layout: { padding: { left: 22 } },
    scales: { x: xAxis(false), y: yAxis(calib(478, 50, 20, 490, -40, 526), macdTicks) } },
  plugins: [frame]
});

// MACD histogram panel
new Chart(document.getElementById('cHist'), {
  type: 'bar',
  data: { datasets: [
    { data: idx.map(i => ({ x: i, y: hist[i] })), grouped: false, barThickness: 2.1,
      backgroundColor: '#4f9fd4', borderColor: '#1f6599', borderWidth: 0.5 }
  ] },
  options: { responsive: false, layout: { padding: { left: 22 } },
    scales: { x: xAxis(true), y: yAxis(calib(528, 103, 10, 542, -20, 619), histTicks) } },
  plugins: [frame]
});

// ---------- fit the note texts to the widths seen on the chart ----------
function scaleAll(sel, s) { document.querySelectorAll(sel).forEach(el => { el.style.transform = 'scaleX(' + s + ')'; }); }
const b1 = document.querySelectorAll('.b1');
scaleAll('.b1', Math.min(498 / b1[1].offsetWidth, 256 / b1[4].offsetWidth));
const b2 = document.querySelectorAll('.b2');
scaleAll('.b2', 267 / b2[1].offsetWidth);
[['wm1', 233], ['wm2', 155]].forEach(([id, w]) => { const el = document.getElementById(id); el.style.transform = 'scaleX(' + (w / el.offsetWidth) + ')'; });
</script>
</body>
</html>
